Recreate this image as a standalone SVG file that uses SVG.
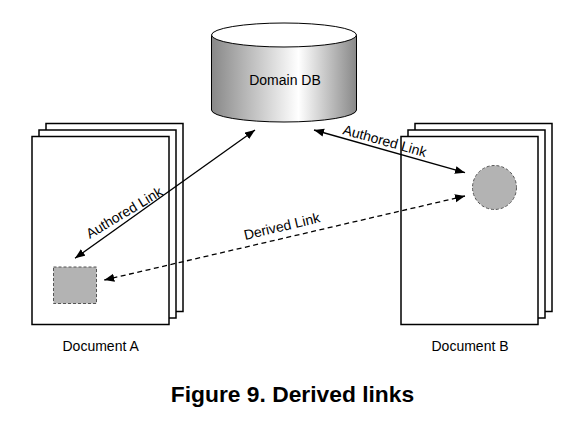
<svg xmlns="http://www.w3.org/2000/svg" width="581" height="421" viewBox="0 0 581 421">
<style>
.page{fill:#fff;stroke:#000;stroke-width:1.5}
.lbl{font-family:"Liberation Sans",Arial,sans-serif;font-size:14px;fill:#000}
.link{fill:none;stroke:#000;stroke-width:1.3}
.dash{stroke-dasharray:5,3.5}
.spot{fill:#b3b3b3;stroke:#555;stroke-width:1;stroke-dasharray:3,2}
</style>
<defs>
<linearGradient id="cyl" x1="0" y1="0" x2="1" y2="0">
<stop offset="0" stop-color="#888888"/>
<stop offset="0.6" stop-color="#ffffff"/>
<stop offset="1" stop-color="#888888"/>
</linearGradient>
<marker id="ah" markerUnits="userSpaceOnUse" markerWidth="12" markerHeight="10" refX="10" refY="4" orient="auto-start-reverse">
<path d="M0,0 L10,4 L0,8 z" fill="#000"/>
</marker>
</defs>
<rect width="581" height="421" fill="#fff"/>

<g id="domain-db">
<path d="M211.5,35 V110 A72.5,12 0 0 0 356.5,110 V35 Z" fill="url(#cyl)" stroke="#000" stroke-width="1"/>
<ellipse cx="284" cy="35" rx="72.5" ry="12" fill="#fff" stroke="#000" stroke-width="1"/>
<text class="lbl" x="285" y="85" text-anchor="middle">Domain DB</text>
</g>

<g id="document-a">
<rect class="page" x="46" y="123.5" width="137" height="188"/>
<rect class="page" x="39" y="130" width="137" height="188"/>
<rect class="page" x="32" y="136.5" width="137" height="188"/>
<rect class="spot" x="53.5" y="267" width="43" height="36.5"/>
<text class="lbl" x="62.5" y="351">Document A</text>
</g>

<g id="document-b">
<rect class="page" x="415" y="123.5" width="137" height="188"/>
<rect class="page" x="408" y="130" width="137" height="188"/>
<rect class="page" x="401" y="136.5" width="137" height="188"/>
<circle class="spot" cx="494.5" cy="187.5" r="22"/>
<text class="lbl" x="431.5" y="351">Document B</text>
</g>

<g id="connectors">
<line class="link" x1="255" y1="130" x2="75" y2="258.3" marker-start="url(#ah)" marker-end="url(#ah)"/>
<line class="link" x1="314" y1="130" x2="465" y2="172.7" marker-start="url(#ah)" marker-end="url(#ah)"/>
<line class="link dash" x1="465" y1="196" x2="104.3" y2="280" marker-start="url(#ah)" marker-end="url(#ah)"/>
<text class="lbl" x="126.7" y="216.7" text-anchor="middle" transform="rotate(-31 126.7 216.7)">Authored Link</text>
<text class="lbl" x="383.5" y="145.5" text-anchor="middle" transform="rotate(15.6 383.5 145.5)">Authored Link</text>
<text class="lbl" x="283" y="231" text-anchor="middle" transform="rotate(-13.4 283 231)">Derived Link</text>
</g>

<text x="292.5" y="401.5" text-anchor="middle" font-family="'Liberation Sans',Arial,sans-serif" font-size="22.8" font-weight="bold" fill="#000">Figure 9. Derived links</text>
</svg>
